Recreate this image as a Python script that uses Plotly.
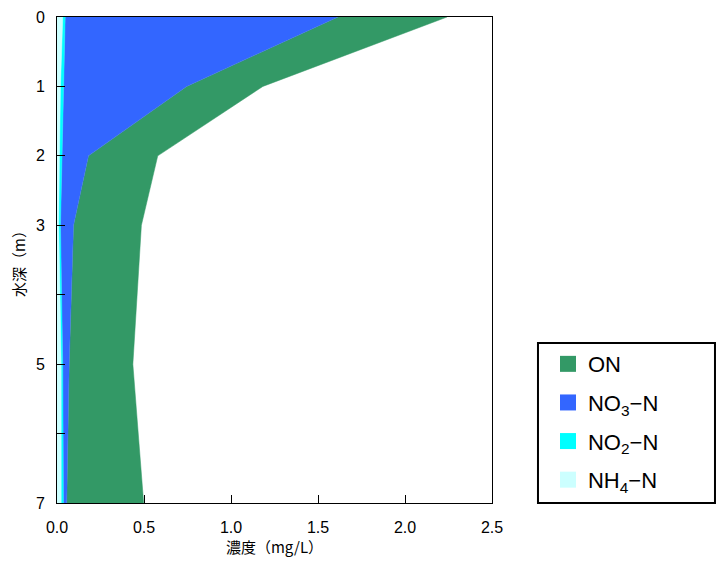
import plotly.graph_objects as go

depths = [0, 1, 2, 3, 5, 7]
nh4 = [0.033, 0.020, 0.014, 0.010, 0.024, 0.024]
no2 = [0.014, 0.018, 0.014, 0.010, 0.009, 0.013]
no3 = [1.568, 0.707, 0.153, 0.075, 0.037, 0.019]
on = [0.627, 0.438, 0.398, 0.390, 0.366, 0.442]

series = [
    ("NH<sub>4</sub>−N", nh4, "#CCFFFF"),
    ("NO<sub>2</sub>−N", no2, "#00FFFF"),
    ("NO<sub>3</sub>−N", no3, "#3366FF"),
    ("ON", on, "#339966"),
]

ytickvals = [0, 1, 2, 3, 4, 5, 6, 7]
yticktext = ["0", "1", "2", "3", "", "5", "", "7"]

cjk = "Noto Sans CJK JP"
latin = "Liberation Sans"
fig = go.Figure()
for name, vals, col in series:
    fig.add_trace(go.Scatter(
        x=vals, y=depths, stackgroup="one", orientation="h",
        mode="lines", line=dict(width=0.5, color=col), fillcolor=col,
        name=name, showlegend=False, hoverinfo="x+y+name"))
for i, (name, vals, col) in enumerate(reversed(series)):
    fig.add_trace(go.Scatter(
        x=[None], y=[None], mode="markers", name=name, legendgroup=f"g{i}",
        marker=dict(symbol="square", size=20, color=col)))

# legend frame
fig.add_shape(type="rect", xref="paper", yref="paper",
              x0=1.1057, x1=1.5126, y0=0.0, y1=0.329,
              line=dict(color="black", width=2), fillcolor="rgba(0,0,0,0)")

fig.update_layout(
    width=716, height=563,
    margin=dict(l=57, r=224, t=17, b=60),
    plot_bgcolor="white", paper_bgcolor="white",
    font=dict(family=latin, color="black", size=16),
    legend=dict(x=1.1287, y=0.004, xanchor="left", yanchor="bottom",
                traceorder="grouped", borderwidth=0,
                font=dict(size=22, family=latin), itemsizing="trace",
                tracegroupgap=7, bgcolor="rgba(0,0,0,0)"),
    xaxis=dict(range=[0, 2.5], dtick=0.5, tickformat=".1f",
               ticks="inside", ticklen=8, tickcolor="black",
               showline=True, linecolor="black", linewidth=1, mirror=True,
               showgrid=False, zeroline=False, automargin=False,
               ticklabelstandoff=10,
               title=dict(text="濃度（mg/L）", font=dict(size=15, family=cjk), standoff=6)),
    yaxis=dict(range=[7, 0], tickvals=ytickvals, ticktext=yticktext,
               ticks="inside", ticklen=8, tickcolor="black",
               showline=True, linecolor="black", linewidth=1, mirror=True,
               showgrid=False, zeroline=False, automargin=False,
               ticklabelstandoff=8,
               title=dict(text="水深（m）", font=dict(size=15, family=cjk), standoff=6)),
)
fig.write_html("out.html")
